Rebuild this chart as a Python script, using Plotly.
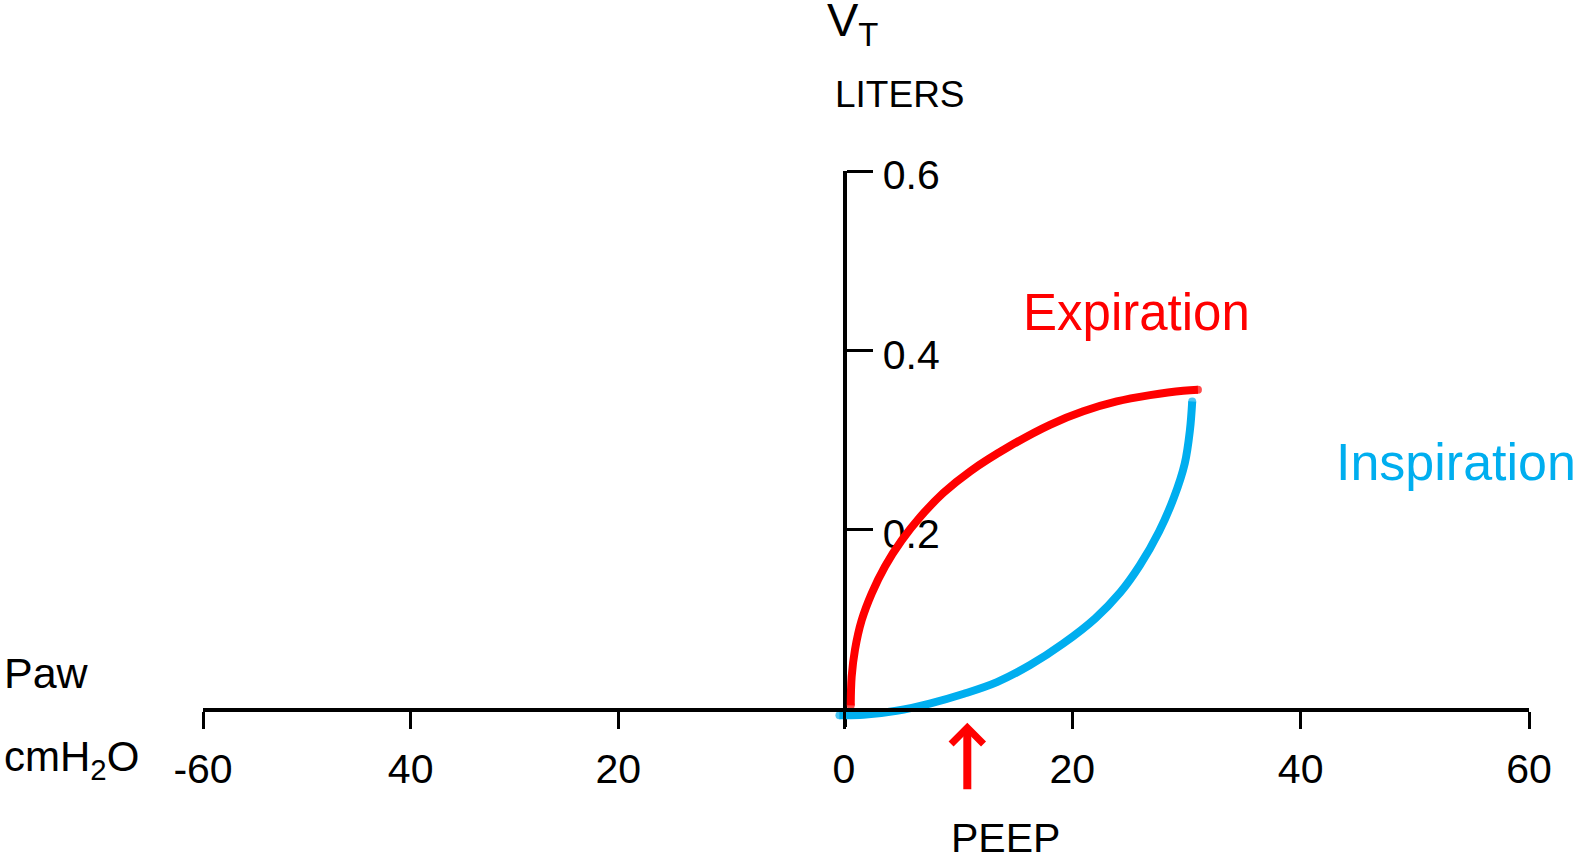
import plotly.graph_objects as go

W, H = 1576, 859

# ---- data ----
# Expiration limb (red): airway pressure (cmH2O) vs tidal volume (L)
exp_p = [0.59, 0.67, 0.96, 1.55, 2.43, 3.59, 5.05, 6.66, 8.70, 11.04, 14.5, 18.04, 20.96, 23.89, 26.8, 29.72, 31.0]
exp_v = [0.004, 0.036, 0.066, 0.099, 0.129, 0.159, 0.188, 0.214, 0.241, 0.265, 0.293, 0.317, 0.332, 0.343, 0.350, 0.355, 0.356]
# Inspiration limb (blue)
insp_p = [-0.4, 1.7, 4.6, 7.5, 10.5, 13.4, 16.3, 19.2, 22.0, 24.2, 25.9, 27.6, 28.9, 29.85, 30.3, 30.5]
insp_v = [-0.007, -0.0065, -0.002, 0.006, 0.017, 0.030, 0.049, 0.073, 0.101, 0.130, 0.160, 0.198, 0.236, 0.274, 0.311, 0.343]

left_ticks = [-60, -40, -20]
left_labels = ["-60", "40", "20"]
right_ticks = [0, 20, 40, 60]
right_labels = ["0", "20", "40", "60"]
vt_ticks = [0.2, 0.4, 0.6]
vt_labels = ["0.2", "0.4", "0.6"]
peep = 10.8

RED = "#FF0000"
BLUE = "#00AEEF"
FONT = "Liberation Sans, Arial, sans-serif"
TICKFS = 41
LW = 8


def fx(p):
    return p / W


def fy(p):
    return 1 - p / H


# pixel layout of the axes
x_left0, x_left_end, x_zero, x_right60 = 203, 826, 844, 1529
y_axis_px, y_top_px, y_bottom_px = 709, 171, 727
sx = (x_right60 - x_zero) / 60.0
r_lo = -1.6
y_lo = -(y_bottom_px - y_axis_px) / ((y_axis_px - y_top_px) / 0.6)


def endcaps(n, s):
    return [s] + [0] * (n - 2) + [s]


fig = go.Figure()
fig.add_trace(go.Scatter(x=[None], y=[None], xaxis="x", yaxis="y", showlegend=False, hoverinfo="skip"))
fig.add_trace(go.Scatter(
    x=insp_p, y=insp_v, xaxis="x2", yaxis="y", mode="lines+markers",
    line=dict(color=BLUE, width=LW, shape="spline", smoothing=1.0),
    marker=dict(color=BLUE, size=endcaps(len(insp_p), LW), line=dict(width=0)),
    showlegend=False, hoverinfo="skip"))
fig.add_trace(go.Scatter(
    x=exp_p, y=exp_v, xaxis="x2", yaxis="y", mode="lines+markers",
    line=dict(color=RED, width=LW, shape="spline", smoothing=1.0),
    marker=dict(color=RED, size=endcaps(len(exp_p), LW), line=dict(width=0)),
    showlegend=False, hoverinfo="skip"))

axis_common = dict(showline=True, linewidth=3.5, linecolor="black", ticks="outside",
                   tickwidth=3, tickcolor="black", showgrid=False, zeroline=False,
                   tickfont=dict(family=FONT, size=TICKFS, color="black"),
                   fixedrange=True, automargin=False)

fig.update_layout(
    width=W, height=H, autosize=False, template="none",
    margin=dict(l=0, r=0, t=0, b=0, pad=0),
    paper_bgcolor="white", plot_bgcolor="rgba(0,0,0,0)",
    font=dict(family=FONT, color="black"),
    showlegend=False, hovermode=False,
    xaxis=dict(domain=[fx(x_left0), fx(x_left_end)], range=[-60, 0], anchor="free",
               position=fy(y_axis_px), tickvals=left_ticks, ticktext=left_labels,
               ticklen=17, ticklabelstandoff=5, **axis_common),
    xaxis2=dict(domain=[fx(x_zero + r_lo * sx), fx(x_right60)], range=[r_lo, 60], anchor="free",
                position=fy(y_axis_px), tickvals=right_ticks, ticktext=right_labels,
                ticklen=17, ticklabelstandoff=5, **axis_common),
    yaxis=dict(domain=[fy(y_bottom_px), fy(y_top_px)], range=[y_lo, 0.6], anchor="free",
               position=fx(x_zero), side="right", tickvals=vt_ticks, ticktext=vt_labels,
               ticklen=26, ticklabelstandoff=2, ticklabelshift=4, **axis_common),
)

def txt(text, xpx, ypx, size, color="black", xanchor="left", yanchor="middle"):
    fig.add_annotation(text=text, xref="paper", yref="paper", x=fx(xpx), y=fy(ypx),
                       xanchor=xanchor, yanchor=yanchor, showarrow=False,
                       font=dict(family=FONT, size=size, color=color))

txt("V<sub>T</sub>", 825, -9, 47, yanchor="top")
txt("LITERS", 833, 94, 37)
txt("Expiration", 1136, 312, 51, color=RED, xanchor="center")
txt("Inspiration", 1334, 462, 52, color=BLUE)
txt("Paw", 2, 673, 43)
txt("cmH<sub>2</sub>O", 2, 731, 42, yanchor="top")
txt("PEEP", 1005, 838, 41, xanchor="center")

# PEEP arrow
fig.add_annotation(x=peep, y=-0.0153, xref="x2", yref="y", text="", showarrow=True,
                   ax=0, ay=68, arrowhead=4, arrowsize=0.78, arrowwidth=8,
                   arrowcolor=RED, standoff=0)

fig.write_html("out.html", config={"displayModeBar": False, "staticPlot": True},
               post_script="document.body.style.margin='0px';document.body.style.overflow='hidden';")
